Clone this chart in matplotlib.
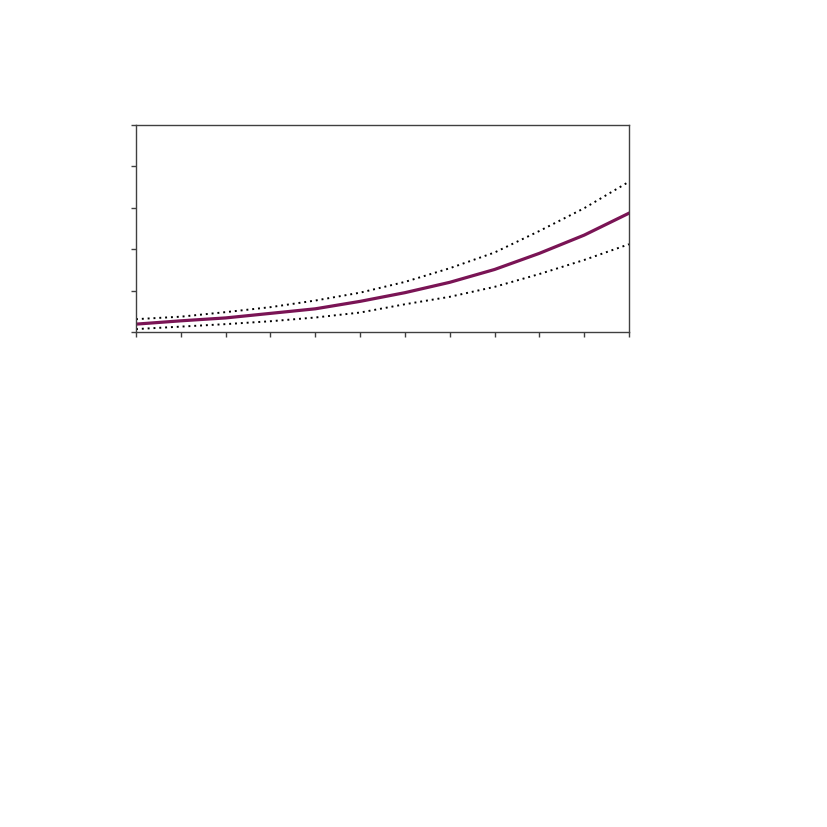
import matplotlib
matplotlib.use("Agg")
import matplotlib.pyplot as plt

x_vals = list(range(12))
central = [0.19, 0.27, 0.34, 0.45, 0.56, 0.74, 0.95, 1.20, 1.51, 1.90, 2.34, 2.87]
upper = [0.31, 0.37, 0.48, 0.60, 0.76, 0.95, 1.21, 1.54, 1.92, 2.44, 2.99, 3.63]
lower = [0.07, 0.13, 0.19, 0.26, 0.35, 0.47, 0.67, 0.85, 1.09, 1.40, 1.74, 2.12]

fig = plt.figure(figsize=(8.27, 8.27), dpi=100)
ax = fig.add_axes([136/827, 1-332/827, (629-136)/827, (332-125)/827])

ax.plot(x_vals, upper, color="black", linestyle=(0, (1, 2)), linewidth=1.4)
ax.plot(x_vals, lower, color="black", linestyle=(0, (1, 2)), linewidth=1.4)
ax.plot(x_vals, central, color="#7a1455", linewidth=2.3)

ax.set_xlim(0, 11)
ax.set_ylim(0, 5)
ax.set_xticks(range(12))
ax.set_yticks(range(6))
ax.set_xticklabels([])
ax.set_yticklabels([])
for s in ax.spines.values():
    s.set_color("#404040")
    s.set_linewidth(1.0)
ax.tick_params(direction="out", length=3.5, color="#404040", width=1.0)

fig.savefig("out.png", dpi=100)
